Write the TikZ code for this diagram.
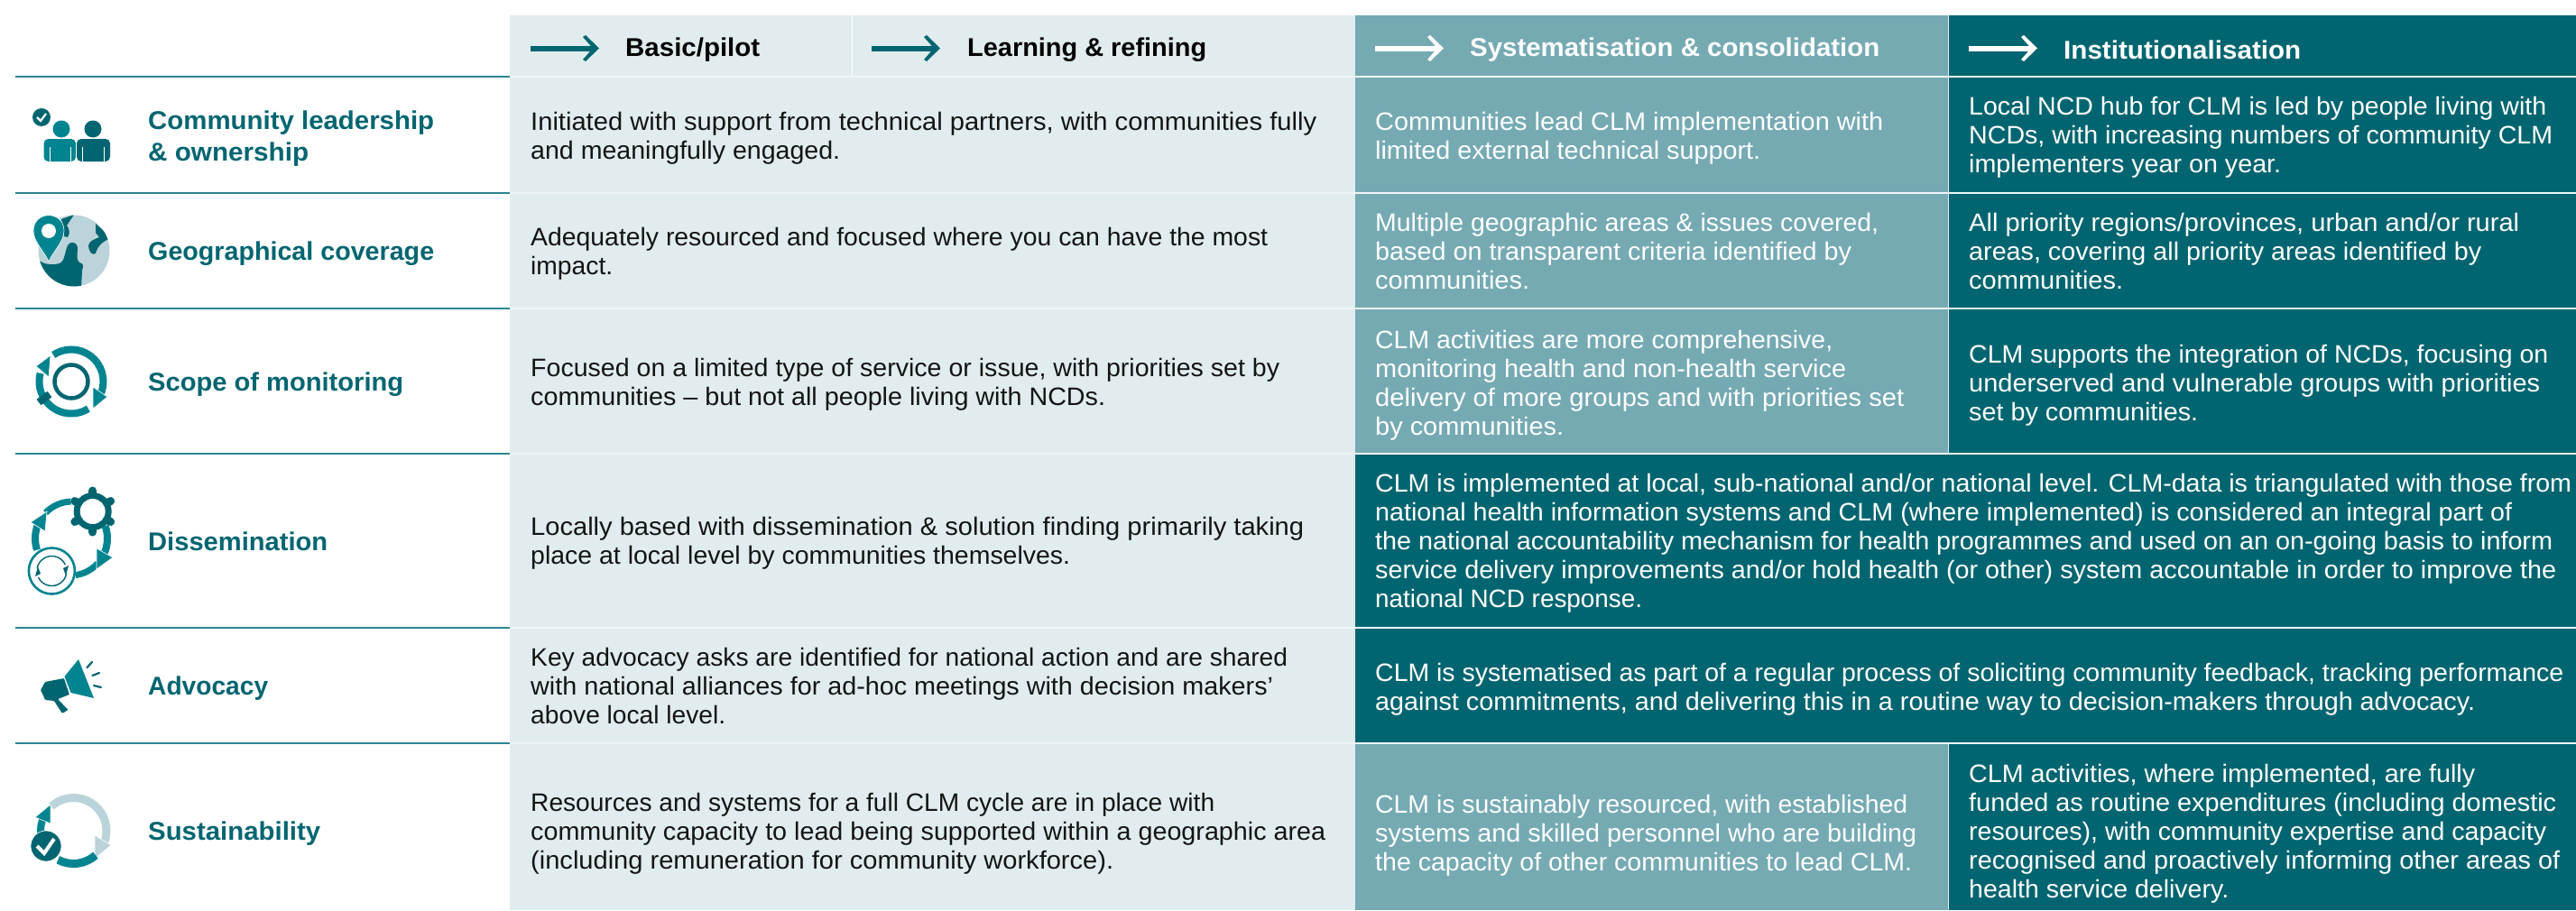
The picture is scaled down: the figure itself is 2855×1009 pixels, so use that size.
\documentclass[tikz,border=0pt]{standalone}
\usepackage{fontspec}
\usepackage{graphicx}
\setmainfont{Liberation Sans}
\newfontfamily\bodyf{Liberation Sans}
\newfontfamily\boldf{Liberation Sans Bold}
\definecolor{cLight}{HTML}{E1ECEE}
\definecolor{cMid}{HTML}{75AAB3}
\definecolor{cDark}{HTML}{006570}
\definecolor{cTeal}{HTML}{008490}
\definecolor{cPale}{HTML}{BBD3DA}
\definecolor{cRule}{HTML}{2C8592}
\definecolor{cInk}{HTML}{141414}
\definecolor{cGap}{HTML}{EFF5F6}
\newcommand{\mystrut}{\rule{0pt}{25.5pt}\rule[-6.5pt]{0pt}{6.5pt}}
% one printed line, fitted to its measured width
\newcommand{\fitl}[2]{\resizebox{#1pt}{\height}{#2}}
\tikzset{
  txt/.style={anchor=west,inner sep=0pt,align=left,yshift=-3pt,font=\bodyf\fontsize{28}{32}\selectfont,execute at begin node=\mystrut,execute at end node=\mystrut},
  ink/.style={txt,text=cInk},
  wht/.style={txt,text=white},
  label/.style={anchor=west,inner sep=0pt,align=left,text=cDark,font=\boldf\fontsize{28.5}{35}\selectfont},
  headk/.style={anchor=west,inner sep=0pt,text=black,font=\boldf\fontsize{28.5}{34}\selectfont},
  headw/.style={anchor=west,inner sep=0pt,text=white,font=\boldf\fontsize{28.5}{34}\selectfont},
  rowrule/.style={cRule,line width=1.5pt},
  gapline/.style={cGap,line width=1.6pt},
  vline/.style={white,line width=0.9pt},
  shaft/.style={line width=6pt},
}
\newcommand{\headarrow}[3]{%
  \coordinate (#3a) at (#2,53.5);
  \coordinate (#3b) at ({#2+70},53.5);
  \draw[shaft,#1] (#3a) -- (#3b);
  \fill[#1] ({#2+58},41) -- ({#2+61},39) -- ({#2+76},53.5) -- ({#2+61},68) -- ({#2+58},66) -- ({#2+69},53.5) -- cycle;
}
\begin{document}
\begin{tikzpicture}[x=1pt,y=-1pt]
\useasboundingbox (0,0) rectangle (2855,1009);
\fill[white] (0,0) rectangle (2855,1009);
% cells
\fill[cLight] (565,17) rectangle (1502,1009);
\fill[cMid] (1502,17) rectangle (2159,503);
\fill[cDark] (2159,17) rectangle (2855,503);
\fill[cDark] (1502,503) rectangle (2855,824);
\fill[cMid] (1502,824) rectangle (2159,1009);
\fill[cDark] (2159,824) rectangle (2855,1009);
% separators
\foreach \yy in {85,214,342,503,696,824}{
  \draw[rowrule] (17,\yy) -- (565,\yy);
  \draw[gapline] (565,\yy) -- (2855,\yy);
}
\draw[vline] (944,17) -- (944,84);
\draw[cLight,line width=0.9pt] (2159,17) -- (2159,503);
\draw[cLight,line width=0.9pt] (2159,824) -- (2159,1009);
% header
\headarrow{cDark}{588}{ha}
\headarrow{cDark}{966}{hb}
\headarrow{white}{1524}{hc}
\headarrow{white}{2182}{hd}
\node[headk] (h1) at (693,55) {\fitl{149}{Basic/pilot}};
\node[headk] (h2) at (1072,55) {\fitl{265}{Learning \& refining}};
\node[headw] (h3) at (1629,55) {\fitl{454}{Systematisation \& consolidation}};
\node[headw] (h4) at (2287,55) {\fitl{263}{Institutionalisation}};
% labels
\node[label] (l1) at (164,153.5) {\fitl{317}{Community leadership}\\\fitl{178}{\& ownership}};
\node[label] (l2) at (164,281.5) {\fitl{317}{Geographical coverage}};
\node[label] (l3) at (164,426.5) {\fitl{283}{Scope of monitoring}};
\node[label] (l4) at (164,600) {\fitl{199}{Dissemination}};
\node[label] (l5) at (164,763.5) {\fitl{133}{Advocacy}};
\node[label] (l6) at (164,924.5) {\fitl{191}{Sustainability}};
% column 1
\node[ink] (a1) at (588,151) {\fitl{871}{Initiated with support from technical partners, with communities fully}\\\fitl{343}{and meaningfully engaged.}};
\node[ink] (a2) at (588,279) {\fitl{817}{Adequately resourced and focused where you can have the most}\\\fitl{91}{impact.}};
\node[ink] (a3) at (588,424) {\fitl{830}{Focused on a limited type of service or issue, with priorities set by}\\\fitl{637}{communities – but not all people living with NCDs.}};
\node[ink] (a4) at (588,600) {\fitl{857}{Locally based with dissemination \& solution finding primarily taking}\\\fitl{598}{place at local level by communities themselves.}};
\node[ink] (a5) at (588,761) {\fitl{839}{Key advocacy asks are identified for national action and are shared}\\\fitl{823}{with national alliances for ad-hoc meetings with decision makers’}\\\fitl{216}{above local level.}};
\node[ink] (a6) at (588,922) {\fitl{758}{Resources and systems for a full CLM cycle are in place with}\\\fitl{881}{community capacity to lead being supported within a geographic area}\\\fitl{646}{(including remuneration for community workforce).}};
% column 3
\node[wht] (b1) at (1524,151) {\fitl{563}{Communities lead CLM implementation with}\\\fitl{427}{limited external technical support.}};
\node[wht] (b2) at (1524,279) {\fitl{558}{Multiple geographic areas \& issues covered,}\\\fitl{528}{based on transparent criteria identified by}\\\fitl{171}{communities.}};
\node[wht] (b3) at (1524,425) {\fitl{507}{CLM activities are more comprehensive,}\\\fitl{522}{monitoring health and non-health service}\\\fitl{586}{delivery of more groups and with priorities set}\\\fitl{209}{by communities.}};
\node[wht] (b6) at (1524,924) {\fitl{590}{CLM is sustainably resourced, with established}\\\fitl{600}{systems and skilled personnel who are building}\\\fitl{595}{the capacity of other communities to lead CLM.}};
% column 4
\node[wht] (c1) at (2182,150) {\fitl{640}{Local NCD hub for CLM is led by people living with}\\\fitl{647}{NCDs, with increasing numbers of community CLM}\\\fitl{346}{implementers year on year.}};
\node[wht] (c2) at (2182,279) {\fitl{610}{All priority regions/provinces, urban and/or rural}\\\fitl{568}{areas, covering all priority areas identified by}\\\fitl{171}{communities.}};
\node[wht] (c3) at (2182,425) {\fitl{642}{CLM supports the integration of NCDs, focusing on}\\\fitl{633}{underserved and vulnerable groups with priorities}\\\fitl{254}{set by communities.}};
\node[wht] (c6) at (2182,922) {\fitl{561}{CLM activities, where implemented, are fully}\\\fitl{651}{funded as routine expenditures (including domestic}\\\fitl{640}{resources), with community expertise and capacity}\\\fitl{655}{recognised and proactively informing other areas of}\\\fitl{288}{health service delivery.}};
% spanning
\node[wht] (d4) at (1524,600) {\fitl{1326}{CLM is implemented at local, sub-national and/or national level. CLM-data is triangulated with those from}\\\fitl{1260}{national health information systems and CLM (where implemented) is considered an integral part of}\\\fitl{1305}{the national accountability mechanism for health programmes and used on an on-going basis to inform}\\\fitl{1309}{service delivery improvements and/or hold health (or other) system accountable in order to improve the}\\\fitl{296}{national NCD response.}};
\node[wht] (d5) at (1524,762) {\fitl{1317}{CLM is systematised as part of a regular process of soliciting community feedback, tracking performance}\\\fitl{1219}{against commitments, and delivering this in a routine way to decision-makers through advocacy.}};
% ---- icon 1: people
\fill[cDark] (46,130) circle (10);
\draw[white,line width=2.2pt] (41,130) -- (45,134) -- (51,126);
\fill[cTeal] (68,143) circle (9.5);
\fill[cDark] (103,143) circle (9.5);
\fill[cTeal,rounded corners=5pt] (48.5,179) -- (48.5,154) -- (84,154) -- (84,179) -- cycle;
\fill[cDark,rounded corners=5pt] (85,179) -- (85,154) -- (122,154) -- (122,179) -- cycle;
\draw[white,line width=0.8pt] (55,163) -- (55,179) (78,163) -- (78,179) (91,163) -- (91,179) (115,163) -- (115,179) (84.5,154) -- (84.5,179);
% ---- icon 2: globe
\fill[cPale] (82,278) circle (39.5);
\begin{scope}
\clip (82,278) circle (39.5);
\fill[cDark] (40,287) -- (45,290) .. controls (52,294) and (60,294) .. (66,292) .. controls (72,290) and (72,278) .. (75,272) .. controls (78,267) and (85,268) .. (86,274) .. controls (86,282) and (84,288) .. (88,291) .. controls (92,292) and (93,294) .. (91,300) -- (90,320) -- (40,320) -- cycle;
\fill[cDark] (68,243) -- (82,238) -- (74,250) .. controls (77,254) and (78,258) .. (75,263) -- (71,262) -- cycle;
\fill[cDark] (106,248) -- (124,264) .. controls (116,266) and (108,272) .. (106,281) .. controls (102,284) and (98,278) .. (98,272) .. controls (100,266) and (104,266) .. (110,263) -- (106,258) -- cycle;
\end{scope}
\fill[cTeal,draw=white,line width=0.6pt] (54,290) .. controls (50,280) and (37,268) .. (37,256) .. controls (37,233) and (71,233) .. (71,256) .. controls (71,268) and (58,280) .. (54,290) -- cycle;
\fill[white] (54,256) circle (8);
% ---- icon 3: scope
\draw[cTeal,line width=8pt] ([shift={(236:35.5)}]79,423) arc[start angle=236,end angle=395,radius=35.5];
\draw[cTeal,line width=8pt] ([shift={(58:35.5)}]79,423) arc[start angle=58,end angle=195,radius=35.5];
\fill[cTeal,draw=white,line width=0.6pt] (40,406) -- (56,394) -- (54,418) -- cycle;
\fill[cTeal,draw=white,line width=0.6pt] (119,440) -- (103,453) -- (103,429) -- cycle;
\draw[white,line width=5pt] (59,433) -- (49,441);
\draw[cDark,line width=8pt] (55,437) -- (43,446);
\draw[cDark,line width=4.5pt] (79,423) circle (18.5);
% ---- icon 4: dissemination
\draw[cTeal,line width=8pt] ([shift={(162:41)}]80,597) arc[start angle=162,end angle=203,radius=41];
\draw[cTeal,line width=7pt] ([shift={(224:41)}]80,597) arc[start angle=224,end angle=268,radius=41];
\fill[cTeal,draw=white,line width=0.6pt] (34,579) -- (52,567) -- (50,589) -- cycle;
\draw[cTeal,line width=8pt] ([shift={(-20:41)}]78,597) arc[start angle=-20,end angle=24,radius=41];
\draw[cTeal,line width=7pt] ([shift={(42:41)}]78,597) arc[start angle=42,end angle=82,radius=41];
\fill[cTeal,draw=white,line width=0.6pt] (125,618) -- (107,631) -- (107,608) -- cycle;
\fill[cDark] (102.7,567) circle (21);
\foreach \aa in {270,330,30,90,150,210}{
  \draw[cDark,line width=9pt,line cap=round] ([shift={(\aa:19)}]102.7,567) -- ([shift={(\aa:23)}]102.7,567);
}
\fill[white] (102.7,567) circle (14);
\fill[white] (57.4,633) circle (27);
\draw[cTeal,line width=2.6pt] (57.4,633) circle (25.5);
\draw[cDark,line width=1.4pt] ([shift={(190:16.5)}]57.4,633) arc[start angle=190,end angle=335,radius=16.5];
\draw[cDark,line width=1.4pt] ([shift={(10:16.5)}]57.4,633) arc[start angle=10,end angle=155,radius=16.5];
\fill[cDark] (70,630) -- (76,627) -- (73,638) -- cycle;
\fill[cDark] (45,636) -- (39,639) -- (42,628) -- cycle;
% ---- icon 5: advocacy
\fill[cTeal] (87,731) -- (104,774) -- (78.5,768) -- (71.5,750) -- cycle;
\fill[cDark,rounded corners=1pt] (71,752) -- (77,770) -- (64,775) -- (75.5,787) -- (69,791) -- (60,777) -- (50,776) -- (47,769) -- (45,765) -- (50,756) -- cycle;
\draw[cDark,line width=2.2pt,line cap=round] (96.5,740) -- (102,734);
\draw[cDark,line width=2.2pt,line cap=round] (102.5,749) -- (110,746);
\draw[cDark,line width=2.2pt,line cap=round] (104,760) -- (112,762);
% ---- icon 6: sustainability
\draw[cPale,line width=9pt] ([shift={(228:36.5)}]81.5,921) arc[start angle=228,end angle=383,radius=36.5];
\fill[cPale,draw=white,line width=0.6pt] (123,937) -- (105,952) -- (105,926) -- cycle;
\draw[cTeal,line width=9pt] ([shift={(48:36.5)}]81.5,921) arc[start angle=48,end angle=118,radius=36.5];
\draw[cTeal,line width=8pt] ([shift={(165:36.5)}]81.5,921) arc[start angle=165,end angle=200,radius=36.5];
\fill[cTeal,draw=white,line width=0.6pt] (39,906) -- (56,892) -- (56,913) -- cycle;
\fill[cDark,draw=white,line width=0.6pt] (51,938) circle (17);
\draw[white,line width=4pt] (41,938) -- (49,946) -- (60,930);
\end{tikzpicture}
\end{document}
